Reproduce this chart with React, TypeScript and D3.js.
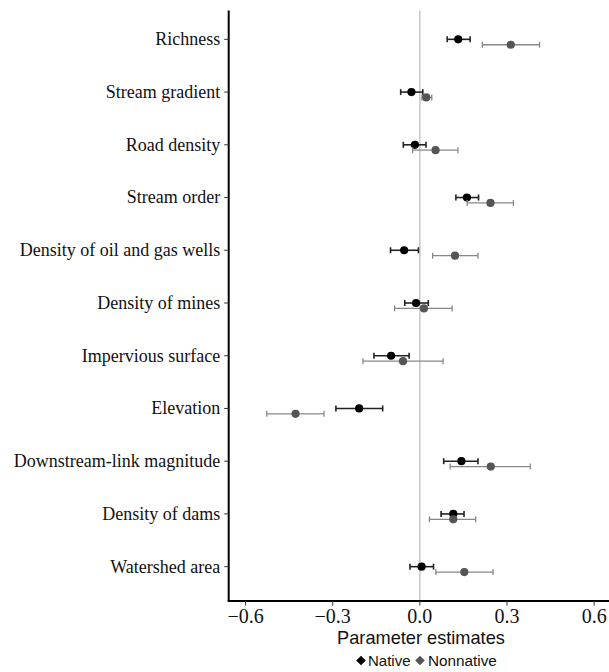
import React from "react";
import * as d3 from "d3";

const categories = [
  "Richness",
  "Stream gradient",
  "Road density",
  "Stream order",
  "Density of oil and gas wells",
  "Density of mines",
  "Impervious surface",
  "Elevation",
  "Downstream-link magnitude",
  "Density of dams",
  "Watershed area",
];

const nativeEst = [0.132, -0.029, -0.017, 0.162, -0.054, -0.013, -0.099, -0.209, 0.143, 0.115, 0.006];
const nativeLo = [0.094, -0.066, -0.057, 0.124, -0.101, -0.052, -0.158, -0.289, 0.082, 0.073, -0.034];
const nativeHi = [0.173, 0.01, 0.021, 0.202, -0.005, 0.029, -0.037, -0.128, 0.2, 0.152, 0.047];

const nonnativeEst = [0.313, 0.022, 0.054, 0.243, 0.121, 0.014, -0.058, -0.428, 0.244, 0.115, 0.153];
const nonnativeLo = [0.215, 0.007, -0.025, 0.163, 0.044, -0.087, -0.196, -0.527, 0.104, 0.033, 0.055];
const nonnativeHi = [0.412, 0.041, 0.131, 0.322, 0.2, 0.111, 0.08, -0.33, 0.38, 0.192, 0.252];

const xTicks = [-0.6, -0.3, 0.0, 0.3, 0.6];
const seriesNames = ["Native", "Nonnative"];

const W = 609;
const H = 672;
const left = 228.7;
const right = 609;
const top = 10.4;
const bottom = 601;

export default function App() {
  const x = d3.scaleLinear().domain([-0.658, 0.651]).range([left, right]);
  const y = d3
    .scalePoint<string>()
    .domain(categories)
    .range([top, bottom])
    .padding(0.6);

  const series = [
    { name: seriesNames[0], est: nativeEst, lo: nativeLo, hi: nativeHi, dy: -2.7, fill: "#000", bar: "#222", barW: 1.6 },
    { name: seriesNames[1], est: nonnativeEst, lo: nonnativeLo, hi: nonnativeHi, dy: 2.7, fill: "#555", bar: "#888", barW: 1.3 },
  ];

  const serif = "'Liberation Serif', 'Times New Roman', serif";
  const sans = "'Liberation Sans', Arial, sans-serif";

  return (
    <svg width={W} height={H} style={{ position: "absolute", left: 0, top: 0, background: "#fff" }}>
      <rect width={W} height={H} fill="#fff" />
      {/* zero reference line */}
      <line x1={x(0)} x2={x(0)} y1={top} y2={bottom} stroke="#bdbdbd" strokeWidth={1.3} />

      {/* series */}
      {series.map((s) =>
        categories.map((c, i) => {
          const cy = (y(c) as number) + s.dy;
          return (
            <g key={s.name + c}>
              <line x1={x(s.lo[i])} x2={x(s.hi[i])} y1={cy} y2={cy} stroke={s.bar} strokeWidth={s.barW} />
              <line x1={x(s.lo[i])} x2={x(s.lo[i])} y1={cy - 3} y2={cy + 3} stroke={s.bar} strokeWidth={s.barW} />
              <line x1={x(s.hi[i])} x2={x(s.hi[i])} y1={cy - 3} y2={cy + 3} stroke={s.bar} strokeWidth={s.barW} />
              <circle cx={x(s.est[i])} cy={cy} r={4.1} fill={s.fill} />
            </g>
          );
        })
      )}

      {/* y axis */}
      <line x1={left} x2={left} y1={top} y2={bottom} stroke="#000" strokeWidth={2} />
      {categories.map((c) => {
        const ty = (y(c) as number) - 2.7;
        return (
          <g key={c}>
            <line x1={left - 4.5} x2={left} y1={ty} y2={ty} stroke="#333" strokeWidth={1} />
            <text
              x={left - 8.5}
              y={ty}
              dy="0.33em"
              textAnchor="end"
              fontFamily={serif}
              fontSize={18}
              fill="#111"
            >
              {c}
            </text>
          </g>
        );
      })}

      {/* x axis */}
      <line x1={left - 1} x2={right} y1={bottom} y2={bottom} stroke="#000" strokeWidth={2} />
      {xTicks.map((t) => (
        <g key={t}>
          <line x1={x(t)} x2={x(t)} y1={bottom} y2={bottom + 4.5} stroke="#333" strokeWidth={1} />
          <text
            x={x(t)}
            y={623}
            textAnchor="middle"
            fontFamily={serif}
            fontSize={20}
            fill="#111"
          >
            {t === 0 ? "0.0" : d3.format(".1f")(t).replace("-", "\u2212")}
          </text>
        </g>
      ))}
      <text x={421} y={643.5} textAnchor="middle" fontFamily={sans} fontSize={18.2} fill="#111">
        Parameter estimates
      </text>

      {/* legend */}
      <g>
        <path d={`M${361 - 4.8},660.5 L361,${660.5 - 4.8} L${361 + 4.8},660.5 L361,${660.5 + 4.8} Z`} fill="#000" />
        <text x={368} y={665.5} fontFamily={sans} fontSize={15} fill="#111">
          {seriesNames[0]}
        </text>
        <path d={`M${420 - 4.8},660.5 L420,${660.5 - 4.8} L${420 + 4.8},660.5 L420,${660.5 + 4.8} Z`} fill="#555" />
        <text x={428} y={665.5} fontFamily={sans} fontSize={15.3} fill="#111">
          {seriesNames[1]}
        </text>
      </g>
    </svg>
  );
}
